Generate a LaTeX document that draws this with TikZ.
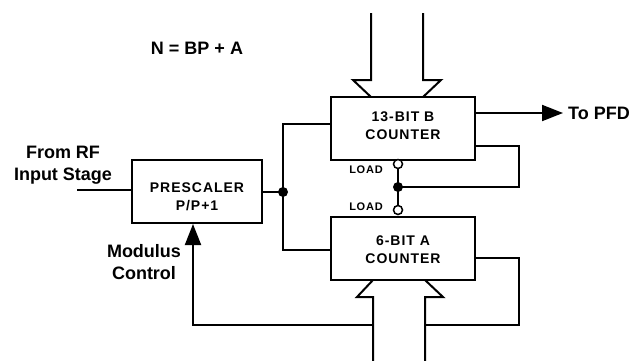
\documentclass[tikz,border=0pt]{standalone}
\usepackage{fontspec}
\setmainfont{Liberation Sans}
\usetikzlibrary{arrows.meta}
\begin{document}
\begin{tikzpicture}[x=1pt,y=-1pt,
  wire/.style={line width=2pt},
  blk/.style={draw,line width=2pt,minimum width=#1,minimum height=63pt,inner sep=0pt,
    font=\fontsize{14}{18}\selectfont\bfseries\addfontfeature{LetterSpace=7},align=center},
  bigtxt/.style={font=\fontsize{18}{22}\selectfont\bfseries,align=center,inner sep=0pt},
  loadtxt/.style={font=\fontsize{11}{13}\selectfont\bfseries\addfontfeature{LetterSpace=7},inner sep=0pt},
  loadc/.style={circle,draw,fill=white,line width=1.5pt,minimum size=9pt,inner sep=0pt},
  tip/.style={-{Triangle[length=21pt,width=16pt]}},
  bus/.style={line width=2pt,line join=miter}]
\useasboundingbox (0,0) rectangle (643,360);

% blocks
\node[blk=130pt] (pre) at (197,191.5) {};
\node[blk=144pt] (bc) at (403,128.5) {};
\node[blk=144pt] (ac) at (403,248.5) {};
\node[font=\fontsize{14}{18}\selectfont\bfseries\addfontfeature{LetterSpace=7},align=center,inner sep=0pt] (pret) at (197,197) {PRESCALER\\P/P+1};
\node[font=\fontsize{14}{18}\selectfont\bfseries\addfontfeature{LetterSpace=7},align=center,inner sep=0pt] (bct) at (403,126) {13-BIT B\\COUNTER};
\node[font=\fontsize{14}{18}\selectfont\bfseries\addfontfeature{LetterSpace=7},align=center,inner sep=0pt] (act) at (403,249.5) {6-BIT A\\COUNTER};

% texts
\node[bigtxt] (eq) at (197,48) {N = BP + A};
\node[bigtxt] (rf) at (63,165) {From RF\\Input Stage};
\node[bigtxt] (mod) at (144,262) {Modulus\\Control};
\node[bigtxt,anchor=west] (pfd) at (568,113) {To PFD};
\node[loadtxt] (lbt) at (366,170) {LOAD};
\node[loadtxt] (lat) at (366,207) {LOAD};

% wide bus arrows
\draw[bus] (371,13) -- (371,80) -- (353,80) -- (371,97);
\draw[bus] (423,13) -- (423,80) -- (441,80) -- (423,97);
\draw[bus] (373,362) -- (373,297) -- (357,297) -- (373,280);
\draw[bus] (425,362) -- (425,297) -- (443,297) -- (425,280);

% coordinates
\coordinate (in) at (77,190);
\coordinate (j1) at (283,192);
\coordinate (jb) at (283,124);
\coordinate (ja) at (283,250);
\coordinate (pfdtip) at (563,113);
\coordinate (fb1) at (519,146);
\coordinate (fb2) at (519,187);
\coordinate (j2) at (398,187);
\coordinate (fa1) at (519,258);
\coordinate (fa2) at (519,325);
\coordinate (fa3) at (425,325);
\coordinate (m1) at (373,325);
\coordinate (m2) at (193,325);

% load circles
\node[loadc] (lb) at (398,164) {};
\node[loadc] (la) at (398,210) {};
\draw[wire] (lb.south) -- (la.north);

% wires
\draw[wire] (in) -- (in -| pre.west);
\draw[wire] (pre.east |- j1) -- (j1);
\draw[wire] (bc.west |- jb) -- (jb) -- (ja) -- (ac.west |- ja);
\draw[wire,tip] (bc.east |- pfdtip) -- (pfdtip);
\draw[wire] (bc.east |- fb1) -- (fb1) -- (fb2) -- (j2);
\draw[wire] (ac.east |- fa1) -- (fa1) -- (fa2) -- (fa3);
\draw[wire,tip] (m1) -- (m2) -- (m2 |- pre.south);

% junction dots
\fill (j1) circle (5pt);
\fill (j2) circle (5pt);
\end{tikzpicture}
\end{document}
